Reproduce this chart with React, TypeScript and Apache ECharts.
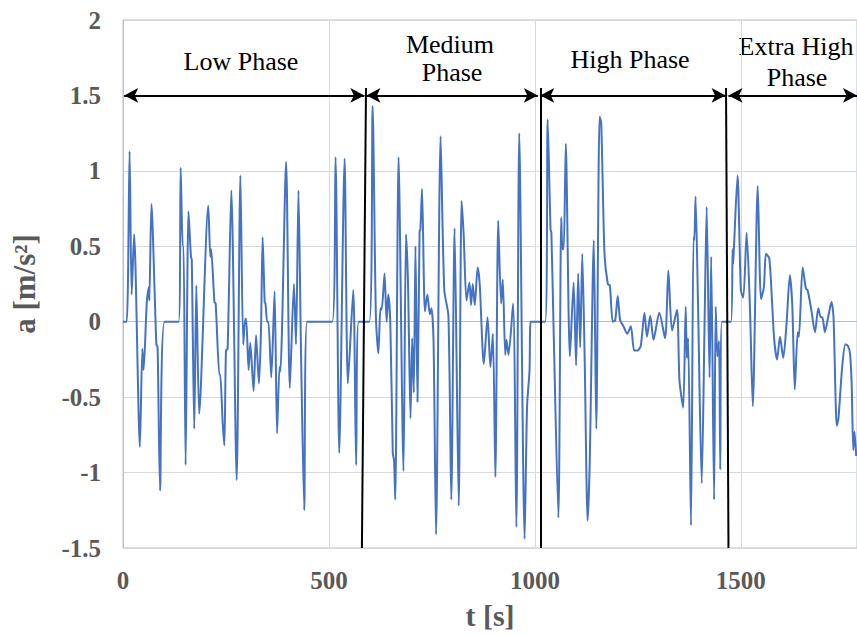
import React, { useEffect, useRef } from "react";
import * as echarts from "echarts";

// time [s]
const timeS = [
  0, 9, 16, 21, 27, 41, 47, 50, 58, 63, 64, 69, 81, 84, 90, 101, 135, 140, 145, 147,
  152, 159, 165, 167, 173, 178, 185, 207, 212, 214, 222, 225, 234, 236, 242, 246, 250, 254,
  263, 276, 285, 292, 297, 299, 305, 309, 317, 323, 330, 335, 339, 344, 346, 350, 353, 360,
  368, 374, 380, 382, 396, 405, 415, 420, 426, 432, 440, 447, 508, 516, 525, 538, 546, 559,
  566, 572, 598,
  606, 614, 620, 625, 628, 635, 640, 644, 649, 655, 658, 661, 669, 681, 687, 692, 698, 702,
  706, 710, 715, 720, 722, 726, 733, 739, 745, 749, 754, 760, 771, 780, 790, 797, 805, 815,
  822, 827, 834, 841, 845, 849, 854, 861, 866, 876, 885, 892, 898, 904, 911, 918, 922, 928,
  931, 936, 947, 955, 962, 975, 981, 987, 990,
  1025, 1031, 1038, 1040, 1045, 1057, 1064, 1067, 1070, 1075, 1085, 1094, 1100, 1105, 1110,
  1115, 1121, 1128, 1133, 1143, 1149, 1157, 1161, 1169, 1177, 1182, 1189, 1195, 1201, 1207,
  1215, 1224, 1233, 1241, 1249, 1257, 1266, 1272, 1280, 1288, 1302, 1316, 1324, 1333, 1345,
  1351, 1360, 1366, 1369, 1372, 1379, 1385, 1387, 1390, 1396, 1405, 1412, 1417, 1424, 1428,
  1435, 1439, 1443, 1447, 1450, 1454, 1476,
  1480, 1481, 1483, 1492, 1500, 1506, 1514, 1522, 1529, 1541, 1549, 1556, 1561, 1569, 1575,
  1581, 1588, 1595, 1603, 1611, 1619, 1625, 1631, 1638, 1641, 1650, 1658, 1662, 1671, 1680,
  1688, 1694, 1698, 1704, 1712, 1720, 1725, 1733, 1737, 1746, 1754, 1760, 1765, 1769, 1773,
  1776, 1780,
];

// acceleration [m/s²]
const accel = [
  0, 0, 1.13, 0.18, 0.58, -0.83, -0.18, -0.32, 0.14, 0.23, 0.14, 0.78, -0.15, -0.17, -1.12, 0, 0, 1.02, 0.5, 0.5,
  -0.95, 0.73, 0.43, 0.41, -0.71, 0.24, -0.61, 0.77, 0.43, 0.48, 0.13, 0.12, -0.35, -0.35, -0.67, -0.82, -0.19, -0.18,
  0.87, -1.05, 0.97, -0.15, 0.02, 0.02, -0.32, -0.14, -0.46, -0.09, -0.41, -0.06, 0.56, 0.13, 0.12, 0, 0, -0.37,
  0.2, -0.74, -0.3, -0.33, 1.06, -0.44, 0.25, -0.15, 0.87, -0.17, -1.25, 0, 0, 1.09, -0.87, 1.08, -0.41, 0.21,
  -0.95, 0, 0,
  1.43, 0.03, -0.21, 0.09, 0.08, 0.32, 0, 0.18, -0.01, -0.87, -0.92, -1.18, 1.09, -0.99, 0.58, 0.25, -0.64, -0.11,
  -0.47, 0.5, -0.53, 0.6, 0.61, 0.88, 0.07, 0.18, 0.05, 0.09, -0.14, -1.41, 1.23, 0.21, 0.04, -1.18, 0.62, -1.22,
  0.8, 0.58, 0.14, 0.26, 0.11, 0.25, 0.11, 0.36, 0.25, -0.28, 0.03, -0.3, -0.08, -1.03, 0.67, 0.12, 0.28, -0.22,
  -0.12, -0.22, 0.12, -1.36, 1.25, -1.44, -0.56, -0.32, 0,
  0, 1.34, 0.61, 0.59, 0, -1.3, 0.69, 0.48, 0.48, 1.18, -0.23, 0.26, -0.29, 0.32, -0.17,
  0.45, -0.27, -1.32, -0.95, 0.54, -0.71, 1.36, 1.32, 0.45, 0.25, 0.24, 0, 0.01, 0.17, 0.01,
  -0.03, -0.08, -0.03, -0.19, -0.19, -0.16, 0.06, -0.1, 0.04, -0.12, 0.06, -0.11, 0.34, -0.06, 0.08,
  -0.39, -0.57, 0.1, -0.24, -0.11, -1.35, 0.56, 0.54, 0.83, 0.12, -1.07, 0, 0.76, -0.37, 0.43,
  -1.18, 0.1, -0.23, -0.13, -0.98, 0, 0,
  0.48, 0.38, 0.48, 0.97, 0.21, 0.16, 0.59, 0.1, -0.56, 0.9, 0.15, 0.23, 0.45, 0.42, 0.17,
  -0.12, -0.25, -0.1, -0.24, -0.01, 0.31, 0.1, -0.45, -0.07, -0.1, 0.36, 0.22, 0.21, 0.08, -0.07,
  0.09, 0.03, 0.03, -0.07, 0.03, 0.13, 0.03, -0.69, -0.64, -0.3, -0.15, -0.16, -0.21, -0.41, -0.85,
  -0.73, -0.89,
];

// phase boundaries (slightly tilted lines: top / bottom time)
const boundaryTop = [590, 1013, 1464];
const boundaryBottom = [580, 1013, 1470];
const boundaryTopA = 1.55;
// double arrows per phase
const arrowStart = [3, 591, 1013, 1470];
const arrowEnd = [586, 1007, 1463, 1782];
const arrowLevel = 1.5;

const FONT = "'Liberation Serif', 'Times New Roman', Times, serif";
const GRAY = "#595959";

export default function App() {
  const ref = useRef<HTMLDivElement>(null);

  useEffect(() => {
    if (!ref.current) return;
    const chart = echarts.init(ref.current, undefined, { renderer: "svg" });

    const markData: any[] = [];
    boundaryTop.forEach((t, i) => {
      markData.push([
        { coord: [t, boundaryTopA], symbol: "none", lineStyle: { color: "#000", width: 2, type: "solid" } },
        { coord: [boundaryBottom[i], -1.5], symbol: "none" },
      ]);
    });
    arrowStart.forEach((t, i) => {
      markData.push([
        { coord: [t, arrowLevel], symbol: "arrow", lineStyle: { color: "#000", width: 2, type: "solid" } },
        { coord: [arrowEnd[i], arrowLevel], symbol: "arrow" },
      ]);
    });

    const txt = (text: string, x: number, y: number) => ({
      type: "text",
      x,
      y,
      silent: true,
      style: {
        text,
        fontSize: 26,
        fontFamily: FONT,
        fill: "#000",
        align: "center",
        verticalAlign: "middle",
      },
    });

    chart.setOption({
      animation: false,
      grid: {
        left: 123,
        right: 0,
        top: 20,
        bottom: 88,
        show: true,
        borderColor: "#b4bfd3",
        borderWidth: 1,
      },
      xAxis: {
        type: "value",
        min: 0,
        max: 1782,
        interval: 500,
        name: "t [s]",
        nameLocation: "middle",
        nameGap: 52,
        nameTextStyle: { fontSize: 30, fontWeight: "bold", color: GRAY, fontFamily: FONT },
        axisLine: { show: true, lineStyle: { color: "#b4bfd3", width: 1 } },
        axisTick: { show: false },
        axisLabel: {
          fontSize: 25,
          fontWeight: "bold",
          color: GRAY,
          fontFamily: FONT,
          margin: 20,
          showMaxLabel: false,
          formatter: (v: number) => String(v),
        },
        splitLine: { show: true, lineStyle: { color: "#d9d9d9", width: 1 } },
      },
      yAxis: {
        type: "value",
        min: -1.5,
        max: 2,
        interval: 0.5,
        name: "a [m/s²]",
        nameLocation: "middle",
        nameRotate: 90,
        nameGap: 83,
        nameTextStyle: { fontSize: 31, fontWeight: "bold", color: GRAY, fontFamily: FONT },
        axisLine: { show: true, lineStyle: { color: "#b4bfd3", width: 1 } },
        axisTick: { show: false },
        axisLabel: {
          fontSize: 25,
          fontWeight: "bold",
          color: GRAY,
          fontFamily: FONT,
          margin: 22,
          formatter: (v: number) => String(v),
        },
        splitLine: { show: true, lineStyle: { color: "#d9d9d9", width: 1 } },
      },
      series: [
        {
          type: "line",
          data: timeS.map((t, i) => [t, accel[i]]),
          showSymbol: false,
          symbol: "none",
          smooth: 0.25,
          lineStyle: { color: "#4472C4", width: 2 },
          silent: true,
          markLine: {
            silent: true,
            animation: false,
            symbolSize: [11, 14],
            label: { show: false },
            lineStyle: { color: "#000", width: 2, type: "solid" },
            itemStyle: { color: "#000" },
            emphasis: { disabled: true },
            data: markData,
          },
        },
      ],
      graphic: [
        txt("Low Phase", 241, 61),
        txt("Medium", 450, 44),
        txt("Phase", 452, 72),
        txt("High Phase", 630, 59),
        txt("Extra High", 796, 46),
        txt("Phase", 797, 77),
      ],
    });

    return () => chart.dispose();
  }, []);

  return (
    <div
      ref={ref}
      style={{ position: "absolute", left: 0, top: 0, width: 857, height: 636, background: "#fff" }}
    />
  );
}
